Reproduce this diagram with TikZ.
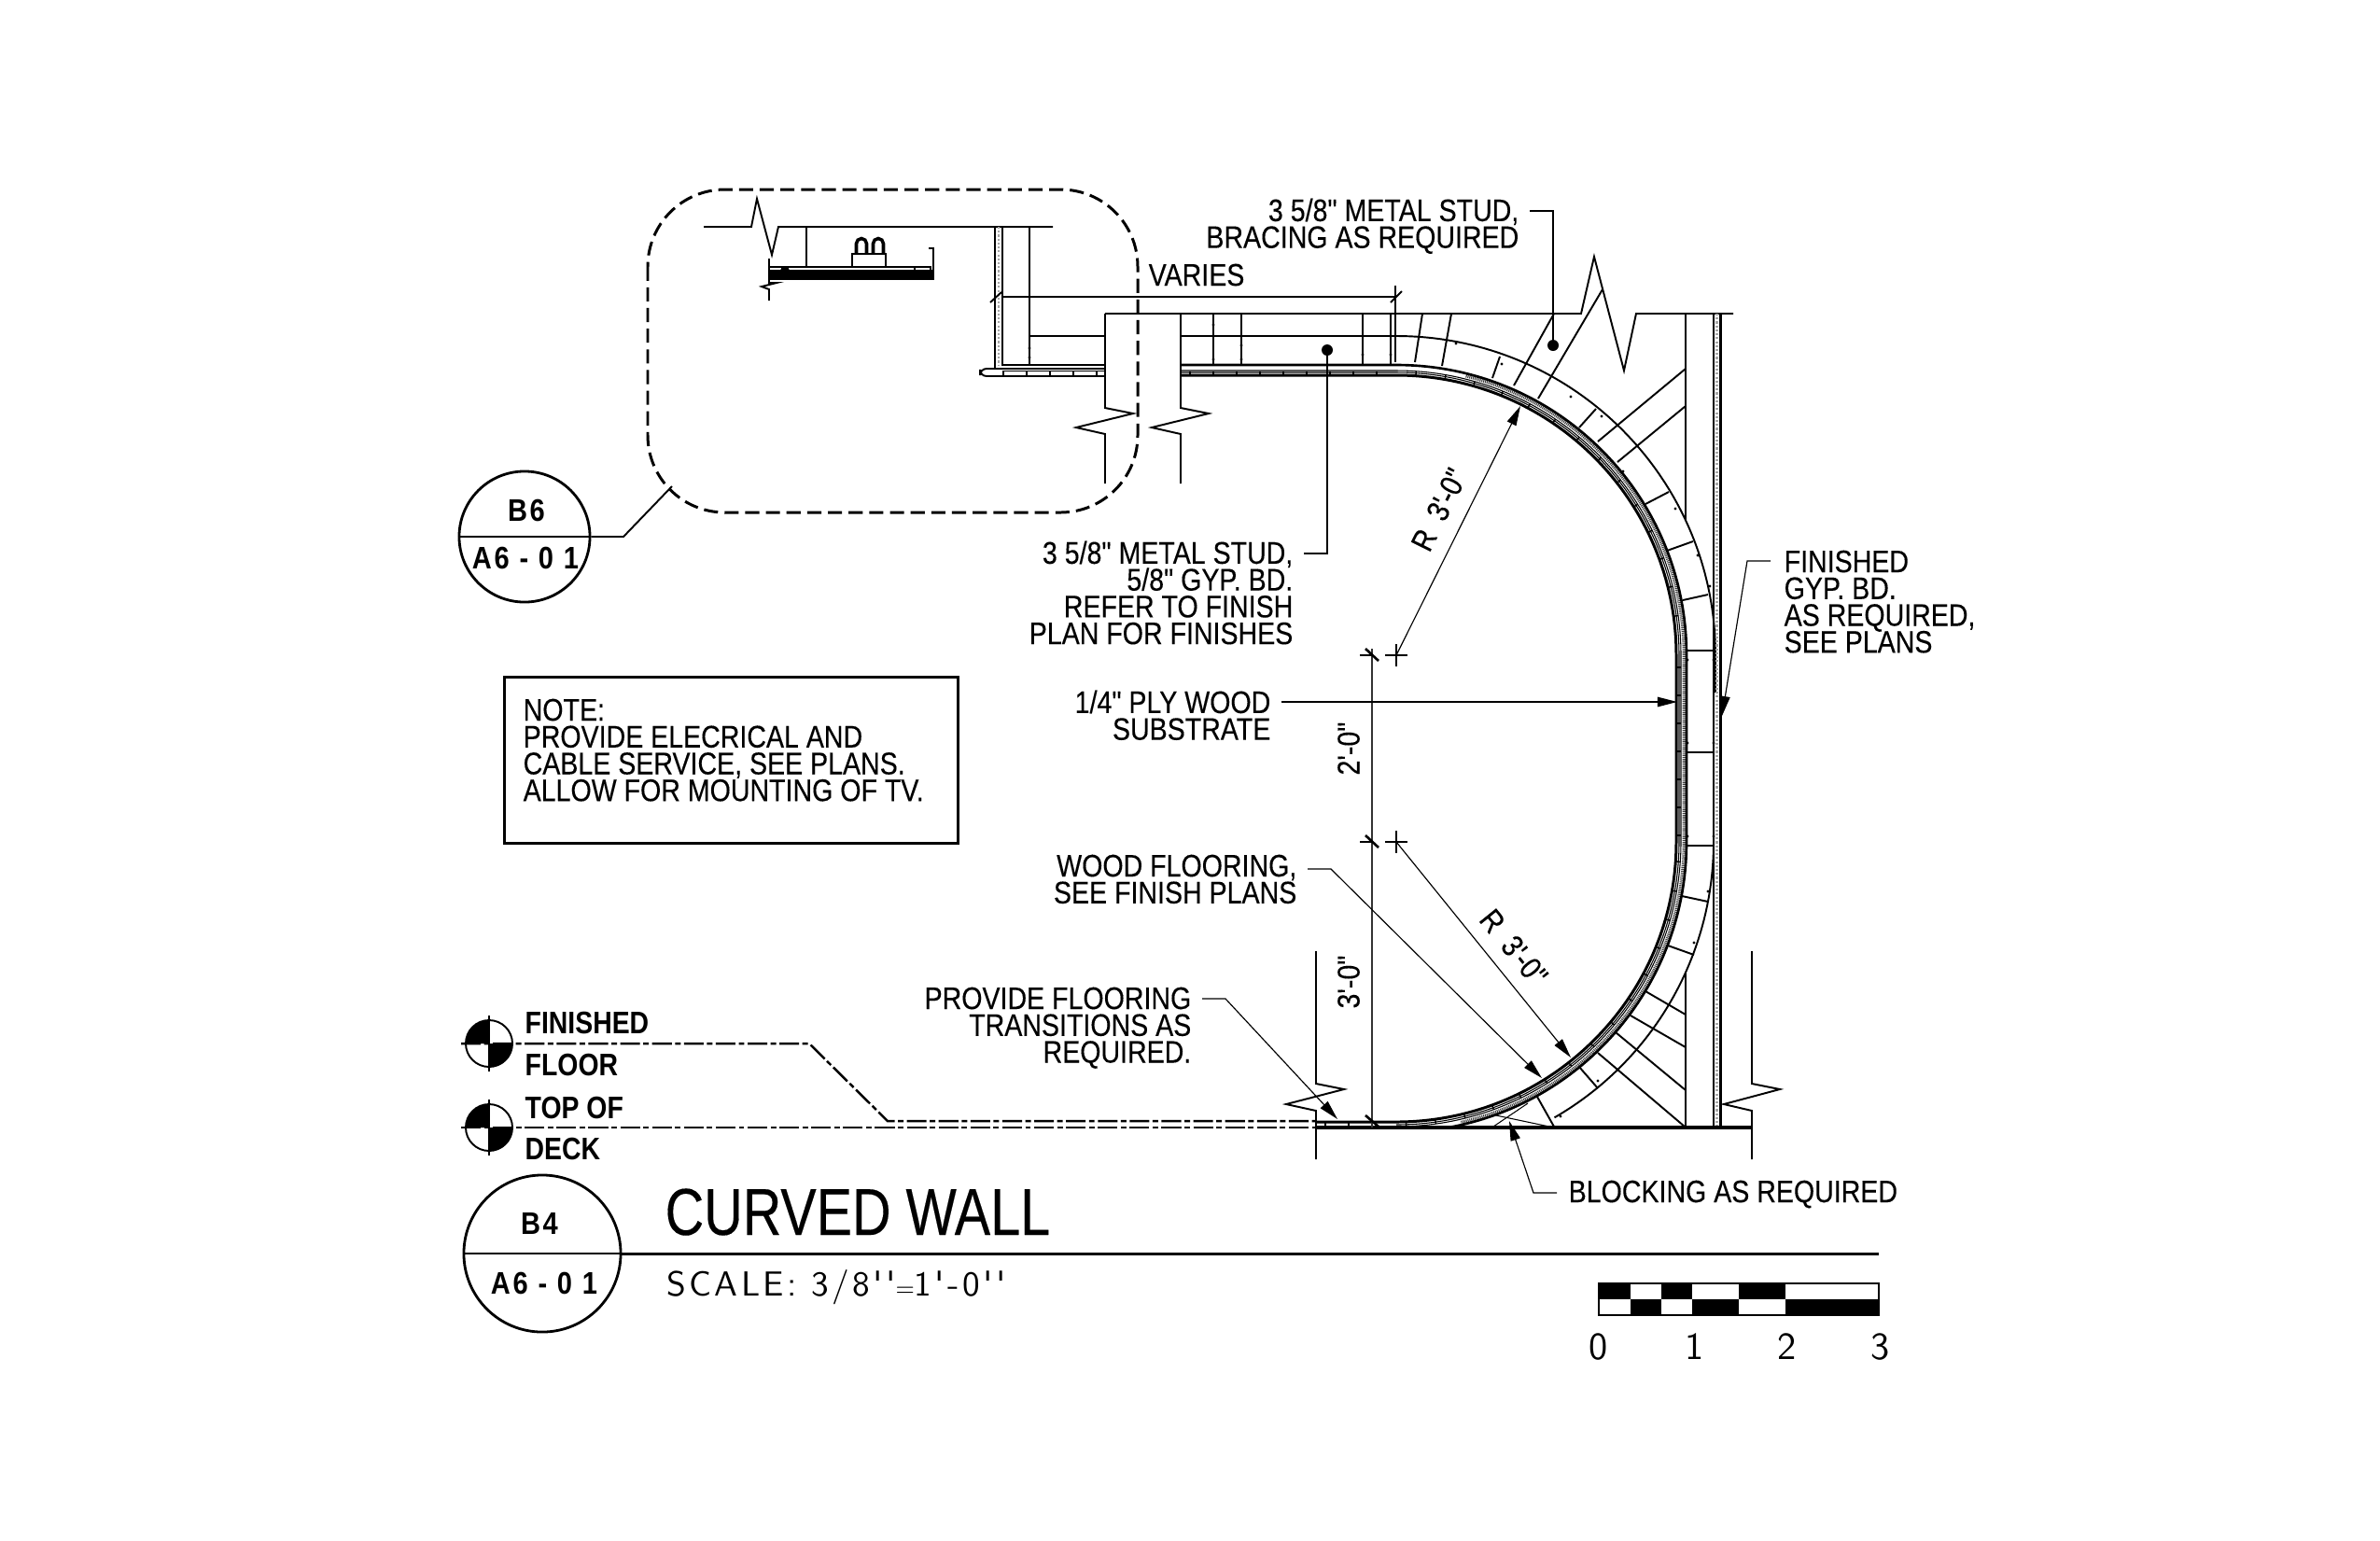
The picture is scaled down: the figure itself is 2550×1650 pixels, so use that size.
\documentclass[tikz,border=0pt]{standalone}
\usepackage{fontspec}
\newfontfamily\sheetfam[FakeStretch=0.855,FakeBold=0.2,BoldFeatures={FakeStretch=0.85,FakeBold=0}]{Liberation Sans}
\newfontfamily\bubblefont[FakeStretch=0.87,LetterSpace=8]{Liberation Sans}
\newfontfamily\titlefont[FakeStretch=0.81,FakeBold=0.2]{Liberation Sans}
\newfontfamily\scalefont[LetterSpace=9]{Latin Modern Sans}
\newfontfamily\tickfont{Latin Modern Sans}
\usetikzlibrary{arrows.meta}

\newcommand{\sheetfont}{\fontsize{9.5}{8.17}\selectfont\sheetfam\lineskiplimit=-20pt\relax}
% path of one wall layer, R measured from the two bend centres
\newcommand{\wallrun}[1]{(1496,702-#1) arc[start angle=-90,end angle=0,radius=#1] -- ++(0,200) arc[start angle=0,end angle=90,radius=#1]}

\tikzset{
  callout/.style={font=\sheetfont,align=right,anchor=north east,inner sep=0pt},
  calloutl/.style={font=\sheetfont,align=left,anchor=north west,inner sep=0pt},
  levellbl/.style={font=\sheetfont\bfseries,anchor=north west,inner sep=0pt},
  bubble/.style={draw,circle,line width=0.8pt,inner sep=0pt},
  bubbletxt/.style={font=\fontsize{9.5}{9.5}\selectfont\bubblefont\bfseries,inner sep=0pt},
  heavy/.style={line width=0.75pt},
  medium/.style={line width=0.55pt},
  fine/.style={line width=0.3pt},
  leader/.style={line width=0.33pt},
  pointer/.style={line width=0.33pt,-{Triangle[length=6pt,width=3pt]}},
  dimline/.style={line width=0.35pt,black!80},
  datumline/.style={line width=0.7pt,dash pattern=on 6pt off 1pt on 1.7pt off 1pt},
  band/.style={line width=1.05pt,black!75,dash pattern=on 0.3pt off 0.25pt},
  tack/.style={line width=0.4pt},
  gyp/.style={line width=0.7pt,black!35,dash pattern=on 0.6pt off 0.6pt}
}

\begin{document}
\begin{tikzpicture}[x=0.01cm,y=0.01cm,yscale=-1]
  \useasboundingbox (0,0) rectangle (2550,1650);

  % detail bubble
  \draw[line width=0.85pt,dash pattern=on 4.3pt off 2pt,rounded corners=23.5pt] (694,203) rectangle (1219,549);

  % ceiling and fixture
  \draw[medium] (754,243) -- (805,243) -- (811,213) -- (827,273) -- (834,243) -- (1128,243);
  \draw[fine] (864,243) -- (864,286);
  \draw[medium] (824,277) -- (824,303) -- (832,303) -- (816,307) -- (824,310) -- (824,322);
  \fill (825,289) rectangle (1000,300);
  \fill (841,290) circle (5);
  \draw[fine] (824,286) -- (996,286);
  \draw[fine,fill=white] (980,286) rectangle (997,289.5);
  \draw[medium] (995,266) -- (1000,266) -- (1000,300);
  \draw[medium] (913,286) rectangle (949,272);
  \foreach \x in {923,941}
    \draw[line width=1pt] (\x-5.5,272) -- (\x-5.5,261) arc[start angle=180,end angle=360,radius=5.5] -- (\x+5.5,272);

  % short wall at the ceiling
  \draw[medium] (1066,243) -- (1066,395);
  \draw[medium] (1074,243) -- (1074,392);
  \draw[gyp] (1070,243) -- (1070,392);
  \draw[medium] (1103,243) -- (1103,391);
  \draw[medium] (1103,360) -- (1184,360);
  \draw[heavy] (1074,391) -- (1184,391);
  \draw[medium,rounded corners=2pt] (1184,395) -- (1050,395) -- (1050,403) -- (1184,403);
  \draw[fine] (1074,397.5) -- (1184,397.5);
  \foreach \x in {1075,1100,...,1175}
    \draw[tack] (\x,398) -- (\x,402);

  % soffit and its broken ends
  \draw[medium] (1184,336) -- (1694,336) -- (1708,275) -- (1740,397) -- (1753,336) -- (1857,336);
  \foreach \x in {1184,1265}
    \draw[medium] (\x,336) -- (\x,437) -- (\x+30,443) -- (\x-31,458) -- (\x,465) -- (\x,518);

  % curved wall layers
  \begin{scope}
    \clip (1000,300) rectangle (1900,1208.5);
    \draw[line width=0.85pt] (1265,402) -- \wallrun{300} -- (1410,1202);
    \draw[fine] (1265,399) -- \wallrun{303};
    \draw[fine] (1265,397) -- \wallrun{305};
    \draw[band] (1496,702) ++(-76:308.5) arc[start angle=-76,end angle=0,radius=308.5] -- ++(0,200) arc[start angle=0,end angle=77,radius=308.5];
    \draw[heavy] (1265,391) -- \wallrun{311};
    \draw[medium] (1265,360) -- (1496,360) arc[start angle=-90,end angle=0,radius=342] -- ++(0,40);
    \draw[medium] (1836,902) arc[start angle=0,end angle=60,radius=341];
    \foreach \a in {-86,-80,...,-4}
      \draw[tack] (1496,702) ++(\a:301) -- ++(\a:4);
    \foreach \a in {4,10,...,88}
      \draw[tack] (1496,902) ++(\a:301) -- ++(\a:4);
  \end{scope}
  \foreach \x in {1275,1300,...,1490}
    \draw[tack] (\x,398) -- (\x,402);
  \foreach \y in {715,745,...,895}
    \draw[tack] (1797,\y) -- (1801,\y);
  \foreach \x in {1420,1445,1470}
    \draw[tack] (\x,1203) -- (\x,1207);

  % studs and blocking
  \foreach \x in {1300,1330,1460,1490}
    \draw[medium] (\x,336) -- (\x,391);
  \foreach \xa/\ya/\xb/\yb in {1516/388/1524/336,1545/392/1555/336,1599/405/1607/382,1622/413/1665/336,
      1648/427/1717/310,1692/458/1710/438,1712/473/1806/395,1733/495/1806/435,1763/540/1788/527,
      1786/590/1814/580,1803/643/1830/637,1808/697/1836/697,1808/806/1836/806,1808/906/1836/906,
      1802/960/1830/966,1787/1013/1815/1023,1763/1062/1806/1087,1747/1088/1806/1122,1731/1106/1806/1168,
      1712/1128/1805/1207,1692/1143/1712/1166,1647/1175/1665/1207}
    \draw[medium] (\xa,\ya) -- (\xb,\yb);
  \foreach \xa/\ya in {1103/373,1103/383,1300/385,1330/385,1300/348,1330/370,1460/380,1490/380,
      1808/707,1836/707,1808/796,1836/796,1808/896,1836/896,1609/390,1560/368,1683/425,1716/446,
      1739/505,1795/545,1819/595,1832/628,1815/1010,1830/955,1672/1196,1712/1158}
    \fill (\xa,\ya) circle (1.6);
  \draw[fine] (1600,1207) -- (1637,1182);
  \draw[fine] (1603,1195) -- (1660,1207);

  % long wall on the right
  \draw[medium] (1806,336) -- (1806,558);
  \draw[medium] (1806,1042) -- (1806,1208);
  \draw[medium] (1836,336) -- (1836,1208);
  \draw[gyp] (1839.5,336) -- (1839.5,1208);
  \draw[line width=0.85pt] (1843,336) -- (1843,1208);

  % floor
  \draw[line width=0.95pt] (1410,1208) -- (1877,1208);
  \draw[medium] (1877,1019) -- (1877,1161) -- (1907,1167) -- (1847,1183) -- (1877,1190) -- (1877,1242);
  \draw[medium] (1410,1019) -- (1410,1161) -- (1440,1167) -- (1378,1183) -- (1410,1190) -- (1410,1242);

  % datum marks
  \foreach \y in {1118,1208} {
    \draw[medium] (524,\y) circle[radius=25];
    \draw[medium] (524,\y-30) -- (524,\y+30);
    \fill (524,\y) -- (499,\y) arc[start angle=180,end angle=270,radius=25] -- cycle;
    \fill (524,\y) -- (549,\y) arc[start angle=0,end angle=90,radius=25] -- cycle;
  }
  \draw[datumline] (494,1118) -- (867,1118) -- (951,1201) -- (1410,1201);
  \draw[datumline] (494,1208) -- (1410,1208);
  \node[levellbl] (lvlfin) at (562,1083) {FINISHED};
  \node[levellbl] (lvlflr) at (562,1128) {FLOOR};
  \node[levellbl] (lvltop) at (562,1174) {TOP OF};
  \node[levellbl] (lvldeck) at (562,1218) {DECK};

  % dimensions
  \draw[dimline] (1470,695) -- (1470,1208);
  \foreach \y in {702,902} {
    \draw[fine] (1457,\y) -- (1470,\y);
    \draw[heavy] (1463,\y-7) -- (1477,\y+6);
    \draw[fine] (1484,\y) -- (1508,\y);
    \draw[fine] (1496,\y-12) -- (1496,\y+12);
  }
  \draw[heavy] (1463,1195) -- (1477,1207);
  \coordinate (ctop) at (1496,702);
  \coordinate (cbot) at (1496,902);
  \coordinate (rtop) at (1629,435);
  \coordinate (rbot) at (1683,1133);
  \draw[pointer] (ctop) -- (rtop);
  \draw[pointer] (cbot) -- (rbot);
  \node[font=\sheetfont,inner sep=0pt,rotate=63.5] (rtoplbl) at (1542,546) {R\ \ 3'-0"};
  \node[font=\sheetfont,inner sep=0pt,rotate=-51] (rbotlbl) at (1622,1015) {R\ \ 3'-0"};
  \node[font=\sheetfont,inner sep=0pt,rotate=90] (dimtwo) at (1445,802) {2'-0"};
  \node[font=\sheetfont,inner sep=0pt,rotate=90] (dimthree) at (1445,1052) {3'-0"};

  % varies
  \draw[fine] (1073,318) -- (1495,318);
  \draw[fine] (1495,306) -- (1495,388);
  \draw[medium] (1061,324) -- (1073,313);
  \draw[medium] (1490,324) -- (1502,312);
  \node[calloutl] (varies) at (1230,282) {VARIES};

  % notes with leaders
  \node[callout] (brace) at (1628,212) {3 5/8" METAL STUD,\\BRACING AS REQUIRED};
  \coordinate (bracedot) at (1664,370);
  \draw[leader] (brace.north east) ++(11,14) -- (1664,226) -- (bracedot);
  \fill (bracedot) circle (6);

  \node[callout] (gypnote) at (1386,579) {3 5/8" METAL STUD,\\5/8" GYP. BD.\\REFER TO FINISH\\PLAN FOR FINISHES};
  \coordinate (gypdot) at (1422,375);
  \draw[leader] (gypnote.north east) ++(11,14) -- (1422,593) -- (gypdot);
  \fill (gypdot) circle (6);

  \node[callout] (plynote) at (1362,739) {1/4" PLY WOOD\\SUBSTRATE};
  \coordinate (plytip) at (1797,752);
  \draw[pointer] (plynote.north east) ++(11,13) -- (plytip);

  \node[callout] (floornote) at (1390,915) {WOOD FLOORING,\\SEE FINISH PLANS};
  \coordinate (floortip) at (1652,1155);
  \draw[pointer] (floornote.north east) ++(11,16) -- (1426,931) -- (floortip);

  \node[callout] (transnote) at (1277,1057) {PROVIDE FLOORING\\TRANSITIONS AS\\REQUIRED.};
  \coordinate (transtip) at (1433,1199);
  \draw[pointer] (transnote.north east) ++(11,13) -- (1313,1070) -- (transtip);

  \node[calloutl] (blocknote) at (1680,1264) {BLOCKING AS REQUIRED};
  \coordinate (blocktip) at (1617,1201);
  \draw[pointer] (blocknote.north west) ++(-12,14) -- (1643,1278) -- (blocktip);

  \node[calloutl] (finnote) at (1911,589) {FINISHED\\GYP. BD.\\AS REQUIRED,\\SEE PLANS};
  \coordinate (fintip) at (1845,767);
  \draw[pointer] (finnote.north west) ++(-14,12) -- (1872,601) -- (fintip);

  % note box
  \node[draw,line width=0.85pt,minimum width=4.86cm,minimum height=1.78cm,anchor=north west,inner sep=0pt] (notebox) at (539,724) {};
  \node[calloutl] (notetxt) at (560,748) {NOTE:\\PROVIDE ELECRICAL AND\\CABLE SERVICE, SEE PLANS.\\ALLOW FOR MOUNTING OF TV.};

  % section bubble
  \node[bubble,minimum size=1.4cm] (secref) at (562,575) {};
  \draw[medium] (secref.west) -- (secref.east);
  \draw[medium] (secref.east) -- (668,575) -- (720,521);
  \node[bubbletxt] (secsheet) at (564,547) {B6};
  \node[bubbletxt] (secpage) at (563,598) {A6 - 0 1};

  % title
  \node[bubble,minimum size=1.68cm] (titleref) at (581,1343) {};
  \draw[heavy] (titleref.west) -- (titleref.east);
  \coordinate (ruleend) at (2013,1343);
  \draw[line width=0.85pt] (titleref.east) -- (ruleend);
  \node[bubbletxt] (titlesheet) at (578,1311) {B4};
  \node[bubbletxt] (titlepage) at (583,1375) {A6 - 0 1};
  \node[font=\fontsize{20.2}{20.2}\selectfont\titlefont,anchor=base west,inner sep=0pt] (title) at (712,1323) {CURVED WALL};
  \node[font=\fontsize{10.6}{10.6}\selectfont\scalefont,anchor=base west,inner sep=0pt] (scaletxt) at (714,1388) {SCALE: 3/8''{\fontsize{7}{7}\selectfont=}1'-0''};

  % scale bar
  \foreach \xa/\xb in {1713/1747,1780/1813,1863/1913}
    \fill (\xa,1375) rectangle (\xb,1392);
  \foreach \xa/\xb in {1747/1780,1813/1863,1913/2013}
    \fill (\xa,1392) rectangle (\xb,1409);
  \draw[fine] (1713,1375) rectangle (2013,1409);
  \foreach \x/\n in {1713/0,1816/1,1915/2,2015/3}
    \node[font=\fontsize{11.7}{11.7}\selectfont\tickfont,inner sep=0pt] (bar\n) at (\x,1443) {\n};
\end{tikzpicture}
\end{document}
